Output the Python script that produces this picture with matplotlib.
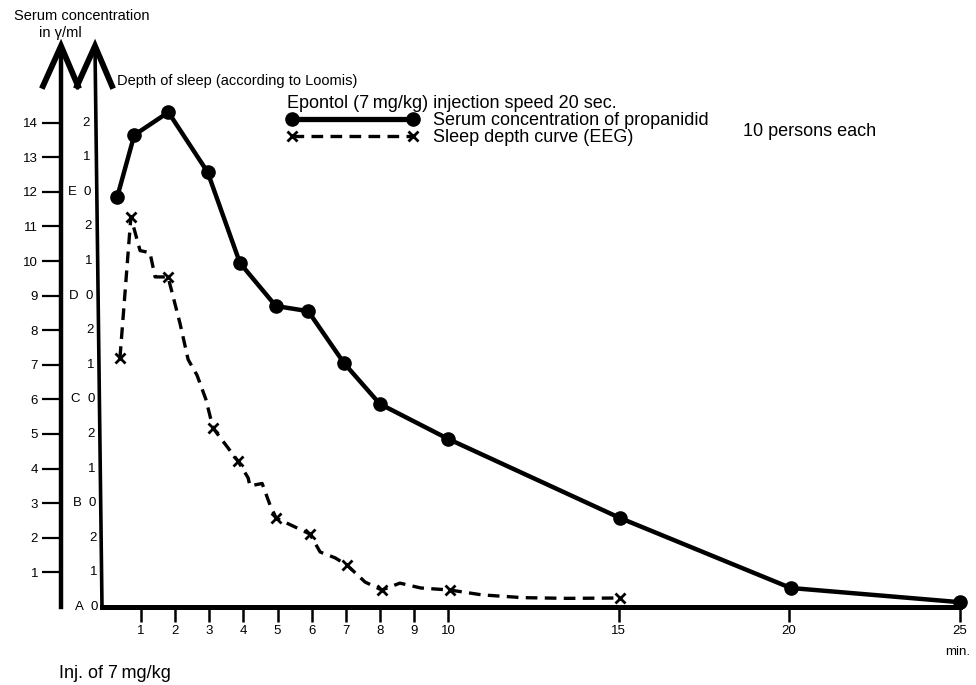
"""Serum concentration of propanidid and sleep depth after Epontol injection."""
import matplotlib
matplotlib.use("Agg")
import matplotlib.pyplot as plt
from matplotlib.lines import Line2D

plt.rcParams['font.family'] = ['Liberation Sans', 'DejaVu Sans']

W, H = 976, 685

# serum concentration (gamma/ml) over minutes after injection
serum_t = [0.3, 0.8, 1.8, 2.95, 3.9, 4.95, 5.9, 6.95, 8.0, 10.0, 15.05, 20.05, 25.0]
serum_c = [11.85, 13.64, 14.3, 12.57, 9.94, 8.7, 8.55, 7.05, 5.87, 4.86, 2.57, 0.55, 0.14]

# sleep depth curve (EEG), same grid: 3 steps per Loomis stage
sleep_t = [0.38, 0.70, 0.97, 1.26, 1.41, 1.79, 2.14, 2.38, 2.64, 2.90, 3.11, 3.84,
           4.14, 4.19, 4.55, 4.78, 4.96, 5.95, 6.25, 6.69, 7.04, 7.57, 8.06, 8.59,
           9.2, 10.06, 11.0, 12.2, 13.5, 15.04]
sleep_d = [7.2, 11.27, 10.3, 10.24, 9.54, 9.54, 8.2, 7.15, 6.7, 6.0, 5.17, 4.22,
           3.73, 3.5, 3.57, 2.95, 2.57, 2.11, 1.59, 1.42, 1.21, 0.72, 0.49, 0.69,
           0.55, 0.49, 0.35, 0.27, 0.25, 0.26]
sleep_marks = [0, 1, 5, 10, 11, 16, 17, 20, 22, 25, 29]

conc_ticks = list(range(1, 15))
depth_steps = ['0', '1', '2'] * 5
depth_stages = ['A', 'B', 'C', 'D', 'E']
time_ticks = [1, 2, 3, 4, 5, 6, 7, 8, 9, 10, 15, 20, 25]


def fx(x):
    return x / W


def fy(y):
    return 1 - y / H


# pixel frame of the plotting area
x0_px, x_scale = 107, 34.1      # pixel of t=0, pixels per minute
y0_px, y_scale = 607, 34.6      # pixel of value 0, pixels per unit
left_px = 102
xmin = (left_px - x0_px) / x_scale
xmax = 25.0
ymax = (y0_px - 50) / y_scale

fig = plt.figure(figsize=(W / 100, H / 100), dpi=100)
ax = fig.add_axes([fx(left_px), fy(y0_px),
                   (xmax - xmin) * x_scale / W, (y0_px - 50) / H])
ax.set_xlim(xmin, xmax)
ax.set_ylim(0, ymax)

for s in ['top', 'right']:
    ax.spines[s].set_visible(False)
ax.spines['bottom'].set_linewidth(3.6)
ax.spines['left'].set_linewidth(3.2)
ax.spines['left'].set_position(('axes', (61 - left_px) / ((xmax - xmin) * x_scale)))

ax.set_yticks(conc_ticks)
ax.set_yticklabels([str(v) for v in conc_ticks])
ax.tick_params(axis='y', direction='out', length=13.5, width=1.6, pad=3, labelsize=9.5)
ax.set_xticks(time_ticks)
ax.set_xticklabels([str(v) for v in time_ticks])
ax.tick_params(axis='x', direction='out', length=11, width=1.8, pad=2, labelsize=9.5)

# serum concentration
ax.plot(serum_t, serum_c, color='black', lw=3.2, marker='o', ms=9.5, clip_on=False,
        solid_capstyle='round', zorder=3)
# sleep depth
ax.plot(sleep_t, sleep_d, color='black', lw=2.4, ls=(0, (3.5, 2.2)), zorder=3)
ax.plot([sleep_t[i] for i in sleep_marks], [sleep_d[i] for i in sleep_marks],
        ls='none', marker='x', ms=7.5, mew=2, color='black', zorder=4)

# depth-of-sleep axis (slightly slanted, as drawn)
fig.add_artist(Line2D([fx(102), fx(95)], [fy(607), fy(48)], color='black', lw=2.6))
for v, step in enumerate(depth_steps):
    ypx = y0_px - v * y_scale
    xa = 95 + 8 * (1 - v / 14)
    fig.text(fx(xa - 5), fy(ypx), step, ha='right', va='center', fontsize=9.5)
    if step == '0':
        fig.text(fx(xa - 24), fy(ypx), depth_stages[v // 3], ha='center', va='center',
                 fontsize=9.5)

# arrowheads
for tip in (61, 95):
    fig.add_artist(Line2D([fx(tip - 18), fx(tip), fx(tip + 17)],
                          [fy(86), fy(46), fy(86)], color='black', lw=4.2,
                          solid_joinstyle='miter'))

fig.text(fx(82), fy(16), 'Serum concentration', ha='center', va='center', fontsize=10.5)
fig.text(fx(60), fy(33), 'in γ/ml', ha='center', va='center', fontsize=10.5)
fig.text(fx(117), fy(81), 'Depth of sleep (according to Loomis)', ha='left',
         va='center', fontsize=10.5)
fig.text(fx(958), fy(652), 'min.', ha='center', va='center', fontsize=9.5)
fig.text(fx(59), fy(673), 'Inj. of 7\u2009mg/kg', ha='left', va='center', fontsize=13)
fig.text(fx(743), fy(132), '10 persons each', ha='left', va='center', fontsize=13)

handles = [
    Line2D([], [], color='black', lw=3.8, marker='o', ms=9.5),
    Line2D([], [], color='black', lw=2.4, ls=(0, (3.5, 2.2)), marker='x', ms=7.5, mew=2),
]
leg = ax.legend(handles, ['Serum concentration of propanidid', 'Sleep depth curve (EEG)'],
                title='Epontol (7\u2009mg/kg) injection speed 20 sec.',
                loc='upper left', bbox_to_anchor=(fx(278), fy(86)),
                bbox_transform=fig.transFigure, frameon=False, numpoints=2,
                handlelength=7.3, handletextpad=0.8, labelspacing=0.0, borderpad=0,
                fontsize=13, title_fontsize=13, alignment='left')

fig.savefig('out.png', dpi=100)
